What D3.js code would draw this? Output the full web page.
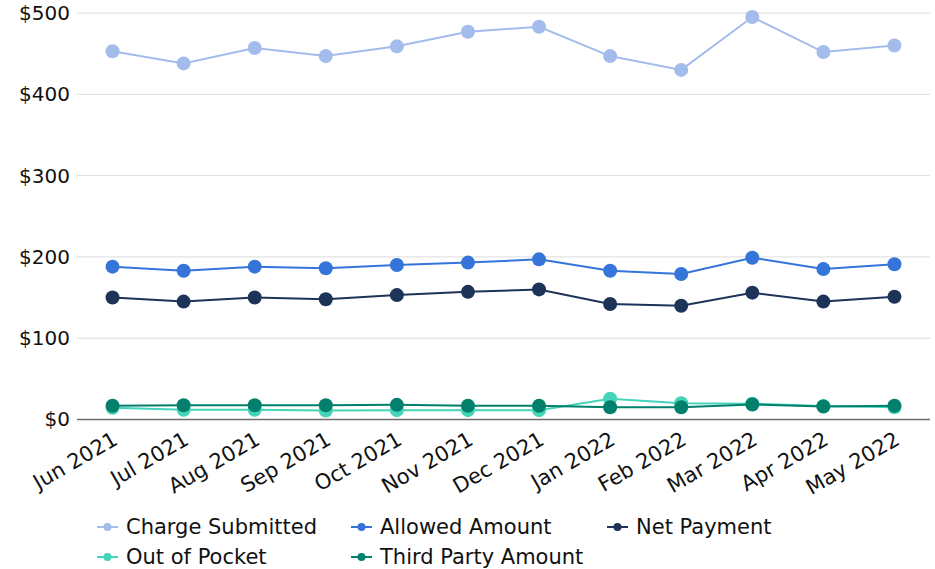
<!DOCTYPE html>
<html>
<head>
<meta charset="utf-8">
<script src="https://cdn.jsdelivr.net/npm/d3@7"></script>
<style>
  body { margin: 0; background: #fff; }
  svg { font-family: "DejaVu Sans", Verdana, sans-serif; }
</style>
</head>
<body>
<div id="chart"></div>
<script>
// data
var months = ["Jun 2021", "Jul 2021", "Aug 2021", "Sep 2021", "Oct 2021", "Nov 2021",
  "Dec 2021", "Jan 2022", "Feb 2022", "Mar 2022", "Apr 2022", "May 2022"];

var chargeSubmitted = [453, 438, 457, 447, 459, 477, 483, 447, 430, 495, 452, 460];
var allowedAmount = [188, 183, 188, 186, 190, 193, 197, 183, 179, 199, 185, 191];
var netPayment = [150, 145, 150, 148, 153, 157, 160, 142, 140, 156, 145, 151];
var outOfPocket = [14.5, 12, 12, 11, 11.5, 11.5, 11.5, 25.5, 20, 19.5, 16.5, 15];
var thirdParty = [17, 17.5, 17.5, 17.5, 18, 17, 17, 15, 15, 18.5, 16, 17];

var yTicks = [0, 100, 200, 300, 400, 500];

var series = [
  { name: "Charge Submitted", values: chargeSubmitted, color: "#a4bcec" },
  { name: "Allowed Amount", values: allowedAmount, color: "#3574d9" },
  { name: "Net Payment", values: netPayment, color: "#1d3358" },
  { name: "Out of Pocket", values: outOfPocket, color: "#44d4b9" },
  { name: "Third Party Amount", values: thirdParty, color: "#02806b" }
];

var svgWidth = 935;
var svgHeight = 569;

var margin = { top: 13, right: 5, bottom: 150, left: 77 };
var width = svgWidth - margin.left - margin.right;
var height = 419.5 - margin.top;

var svg = d3.select("#chart")
  .append("svg")
  .attr("width", svgWidth)
  .attr("height", svgHeight);

var chartGroup = svg.append("g")
  .attr("transform", `translate(${margin.left}, ${margin.top})`);

var xScale = d3.scalePoint()
  .domain(months)
  .range([0, width])
  .padding(0.5);

var yScale = d3.scaleLinear()
  .domain([0, 500])
  .range([height, 0]);

// gridlines
chartGroup.append("g")
  .selectAll("line")
  .data(yTicks.filter(d => d > 0))
  .enter()
  .append("line")
  .attr("x1", 0)
  .attr("x2", width)
  .attr("y1", d => yScale(d))
  .attr("y2", d => yScale(d))
  .attr("stroke", "#dcdcdc")
  .attr("stroke-width", 1);

// zero line
chartGroup.append("line")
  .attr("x1", 0)
  .attr("x2", width)
  .attr("y1", yScale(0))
  .attr("y2", yScale(0))
  .attr("stroke", "#6e6e6e")
  .attr("stroke-width", 1.5);

// y axis labels
var yAxis = d3.axisLeft(yScale)
  .tickValues(yTicks)
  .tickSize(0)
  .tickPadding(7)
  .tickFormat(d => "$" + d);

chartGroup.append("g")
  .attr("class", "y_axis")
  .call(yAxis)
  .call(g => g.select(".domain").remove())
  .selectAll("text")
  .attr("font-size", "20px")
  .attr("font-family", "DejaVu Sans, Verdana, sans-serif")
  .attr("fill", "#111");

// x axis labels
var xAxis = d3.axisBottom(xScale)
  .tickSize(0)
  .tickPadding(0);

chartGroup.append("g")
  .attr("class", "x_axis")
  .attr("transform", `translate(0, ${height})`)
  .call(xAxis)
  .call(g => g.select(".domain").remove())
  .selectAll("text")
  .attr("font-size", "21px")
  .attr("font-family", "DejaVu Sans, Verdana, sans-serif")
  .attr("fill", "#111")
  .attr("text-anchor", "end")
  .attr("dy", 0)
  .attr("transform", "translate(6, 24) rotate(-30)");

var line = d3.line()
  .x((d, i) => xScale(months[i]))
  .y(d => yScale(d));

series.forEach(function (s) {
  var g = chartGroup.append("g");
  g.append("path")
    .datum(s.values)
    .attr("d", line)
    .attr("fill", "none")
    .attr("stroke", s.color)
    .attr("stroke-width", 2);

  g.selectAll("circle")
    .data(s.values)
    .enter()
    .append("circle")
    .attr("cx", (d, i) => xScale(months[i]))
    .attr("cy", d => yScale(d))
    .attr("r", 7)
    .attr("fill", s.color);
});

// legend
var legendPos = [
  { x: 97, y: 527 }, { x: 351, y: 527 }, { x: 607, y: 527 },
  { x: 97, y: 557 }, { x: 351, y: 557 }
];

var legend = svg.append("g")
  .selectAll("g")
  .data(series)
  .enter()
  .append("g")
  .attr("transform", (d, i) => `translate(${legendPos[i].x}, ${legendPos[i].y})`);

legend.append("line")
  .attr("x1", 0)
  .attr("x2", 21)
  .attr("stroke", d => d.color)
  .attr("stroke-width", 2);

legend.append("circle")
  .attr("cx", 10.5)
  .attr("r", 4)
  .attr("fill", d => d.color);

legend.append("text")
  .attr("x", 29)
  .attr("dy", "0.35em")
  .attr("font-size", "21px")
  .attr("fill", "#111")
  .text(d => d.name);
</script>
</body>
</html>
